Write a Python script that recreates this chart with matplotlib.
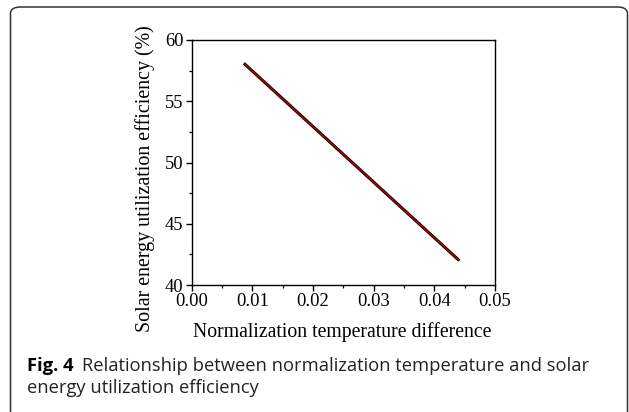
import matplotlib
matplotlib.use("Agg")
import matplotlib.pyplot as plt
from matplotlib.patches import FancyBboxPatch
from matplotlib.ticker import MultipleLocator

# Normalized temperature difference vs. solar energy utilization efficiency
temp_diff = [0.0086, 0.0441]
efficiency = [58.1, 42.0]

x_ticks = [0.00, 0.01, 0.02, 0.03, 0.04, 0.05]
y_ticks = [40, 45, 50, 55, 60]

W, H = 629, 412
fig = plt.figure(figsize=(W / 100, H / 100), dpi=100)

# rounded frame around the figure and caption
frame = FancyBboxPatch((10.5 / W, -20 / H), 617 / W, (H - 7 + 20) / H,
                       boxstyle="round,pad=0,rounding_size=0.016",
                       transform=fig.transFigure, fill=False,
                       edgecolor="#333333", linewidth=1.1)
fig.patches.append(frame)

serif = "Liberation Serif"
ax = fig.add_axes([191.7 / W, (H - 285) / H, 303.3 / W, 245 / H])
ax.plot(temp_diff, efficiency, color="black", linewidth=2.2, solid_capstyle="butt")
ax.plot(temp_diff, efficiency, color="#cc0000", linewidth=0.9, solid_capstyle="butt")

ax.set_xlim(0, 0.05)
ax.set_ylim(40, 60)
ax.set_xticks(x_ticks)
ax.set_yticks(y_ticks)
ax.set_xticklabels([f"{v:.2f}" for v in x_ticks])
ax.set_yticklabels([str(v) for v in y_ticks])
ax.xaxis.set_minor_locator(MultipleLocator(0.005))
ax.yaxis.set_minor_locator(MultipleLocator(2.5))
ax.tick_params(which="major", direction="out", length=4.5, width=1.0,
               labelsize=13.3, pad=1.5)
ax.tick_params(which="minor", direction="out", length=2.5, width=0.9)
for lbl in ax.get_xticklabels() + ax.get_yticklabels():
    lbl.set_fontfamily(serif)
for sp in ax.spines.values():
    sp.set_linewidth(1.0)

ax.set_xlabel("Normalization temperature difference", fontfamily=serif,
              fontsize=14.2, va="top")
ax.xaxis.set_label_coords(0.497, -0.152)
ax.set_ylabel("Solar energy utilization efficiency (%)", fontfamily=serif,
              fontsize=14.4, va="center")
ax.yaxis.set_label_coords(-0.154, 0.433)

# caption
cap_font = "Open Sans"
cap_size = 13.25
fig.canvas.draw()
renderer = fig.canvas.get_renderer()
t1 = fig.text(27 / W, (H - 371) / H, "Fig. 4", fontfamily=cap_font,
              fontweight="bold", fontsize=cap_size, va="baseline")
bb = t1.get_window_extent(renderer=renderer)
fig.text((bb.x1 + 9) / W, (H - 371) / H,
         "Relationship between normalization temperature and solar",
         fontfamily=cap_font, fontsize=cap_size, va="baseline", color="#222222")
fig.text(27 / W, (H - 393) / H, "energy utilization efficiency",
         fontfamily=cap_font, fontsize=cap_size, va="baseline", color="#222222")

fig.savefig("out.png", dpi=100)
